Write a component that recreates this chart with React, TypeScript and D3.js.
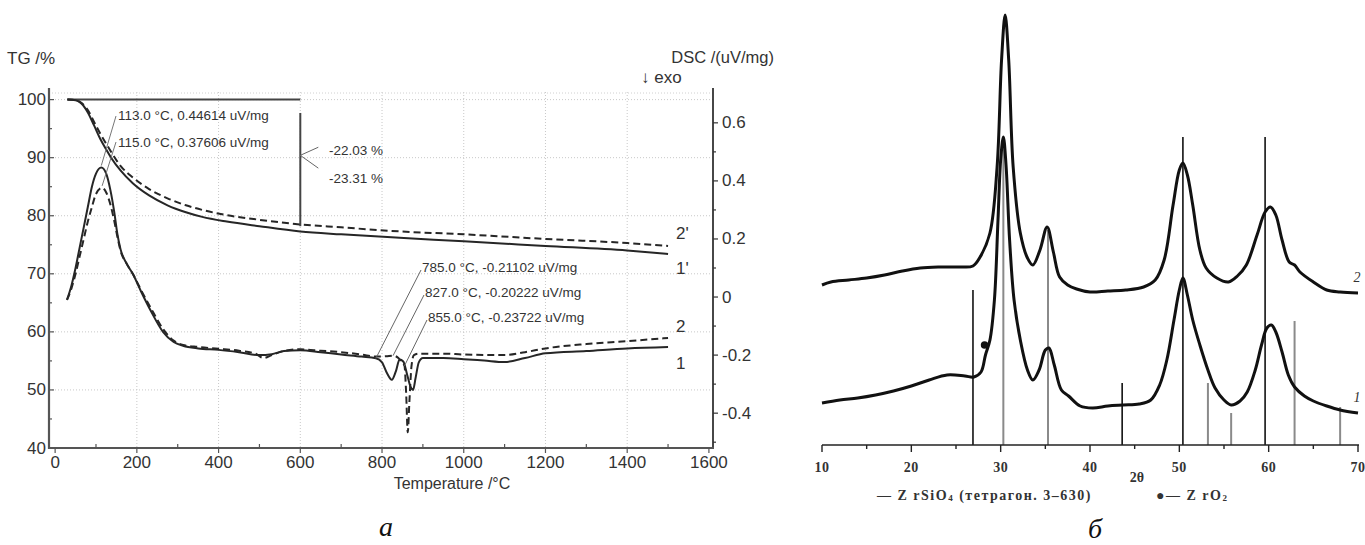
import React from "react";
import * as d3 from "d3";

// ---------- Panel a: TG / DSC ----------
const tgTemps = [30, 50, 65, 80, 95, 110, 125, 137, 160, 190, 230, 275, 320, 360, 420, 500, 600, 700, 843, 1000, 1200, 1400, 1500];
const tgSolid = [100, 99.9, 99.3, 97.8, 95.6, 93.3, 91.4, 90.0, 87.8, 85.6, 83.5, 81.8, 80.6, 79.8, 79.0, 78.2, 77.3, 76.8, 76.2, 75.6, 74.8, 74.0, 73.4];
const tgDashed = [100, 99.9, 99.4, 98.2, 96.2, 94.2, 92.4, 91.0, 88.6, 86.6, 84.6, 83.0, 81.8, 81.0, 80.1, 79.3, 78.5, 78.0, 77.3, 76.8, 76.0, 75.3, 74.8];

const dscTemps1 = [29, 40, 50, 60, 70, 80, 90, 100, 113, 125, 135, 145, 152, 160, 175, 190, 210, 235, 264, 290, 313, 350, 400, 450, 500, 530, 560, 600, 650, 700, 750, 785, 800, 812, 824, 834, 843, 852, 862, 870, 876, 882, 890, 900, 950, 1000, 1050, 1100, 1150, 1200, 1300, 1400, 1500];
const dsc1 = [-0.01, 0.04, 0.1, 0.17, 0.24, 0.31, 0.38, 0.425, 0.446, 0.425, 0.37, 0.29, 0.22, 0.165, 0.115, 0.08, 0.02, -0.05, -0.12, -0.155, -0.168, -0.177, -0.182, -0.19, -0.2, -0.197, -0.186, -0.183, -0.19, -0.198, -0.205, -0.211, -0.225, -0.262, -0.285, -0.255, -0.215, -0.222, -0.27, -0.31, -0.32, -0.28, -0.225, -0.21, -0.21, -0.214, -0.219, -0.224, -0.21, -0.194, -0.186, -0.177, -0.172];

const dscTemps2 = [29, 40, 50, 60, 70, 80, 90, 100, 115, 125, 135, 145, 152, 160, 175, 190, 210, 235, 264, 290, 313, 350, 400, 450, 490, 510, 530, 560, 600, 650, 700, 750, 785, 810, 827, 840, 850, 855, 859, 863, 867, 872, 878, 890, 950, 1000, 1100, 1150, 1200, 1300, 1400, 1500];
const dsc2 = [-0.01, 0.03, 0.08, 0.14, 0.2, 0.26, 0.31, 0.355, 0.376, 0.36, 0.32, 0.26, 0.21, 0.16, 0.115, 0.08, 0.025, -0.04, -0.11, -0.15, -0.165, -0.172, -0.178, -0.185, -0.195, -0.21, -0.2, -0.186, -0.18, -0.185, -0.19, -0.198, -0.205, -0.204, -0.202, -0.21, -0.228, -0.237, -0.33, -0.466, -0.36, -0.24, -0.2, -0.195, -0.195, -0.198, -0.2, -0.19, -0.177, -0.162, -0.152, -0.141];

const tempTicks = [0, 200, 400, 600, 800, 1000, 1200, 1400, 1600];
const tgTicks = [40, 50, 60, 70, 80, 90, 100];
const dscTicks = [-0.4, -0.2, 0, 0.2, 0.4, 0.6];

const dscNotes = [
  { t: 113, v: 0.446, text: "113.0 °C, 0.44614 uV/mg" },
  { t: 115, v: 0.376, text: "115.0 °C, 0.37606 uV/mg" },
];
const dscNotesLow = [
  { t: 785, v: -0.211, text: "785.0 °C, -0.21102 uV/mg" },
  { t: 827, v: -0.202, text: "827.0 °C, -0.20222 uV/mg" },
  { t: 855, v: -0.237, text: "855.0 °C, -0.23722 uV/mg" },
];
const massLoss = ["-22.03 %", "-23.31 %"];
const curveLabels = ["2'", "1'", "2", "1"];
const curveLabelValues = [0.22, 0.1, -0.1, -0.228];

// ---------- Panel б: XRD ----------
const xrdAngles2 = [10, 11, 13, 15, 17, 19, 21, 23, 25.5, 26.9, 27.7, 28.8, 29.6, 30.1, 30.5, 30.9, 31.4, 32.2, 33.0, 33.6, 34.4, 35.2, 35.9, 36.6, 37.5, 38.5, 40, 42, 44, 46, 47.3, 48.3, 49.3, 50.0, 50.4, 50.9, 51.5, 52.3, 53, 54.2, 55.5, 56.5, 57.5, 58.7, 59.6, 60.2, 60.8, 61.5, 62.3, 62.9, 63.5, 65, 66.5, 68, 70];
const xrd2 = [160, 163, 165, 167, 170, 174, 177, 178, 178, 179, 188, 212, 278, 385, 430, 385, 278, 212, 187, 180, 195, 218, 193, 168, 160, 156, 153, 154, 155, 158, 165, 185, 240, 275, 282, 270, 240, 195, 177, 167, 163, 169, 180, 210, 233, 238, 230, 205, 183, 180, 173, 163, 155, 153, 152];

const xrdAngles1 = [10, 12, 14, 16, 18, 20, 22, 24, 26, 27, 27.8, 28.3, 28.8, 29.3, 29.7, 30.0, 30.3, 30.6, 31.0, 31.5, 32.2, 33.0, 33.6, 34.3, 35.0, 35.4, 36.0, 36.8, 37.6, 38.9, 40.3, 42, 43.7, 45.5, 46.8, 47.8, 48.6, 49.4, 50.0, 50.4, 50.9, 51.5, 52.3, 53.2, 54, 55, 55.8, 56.8, 57.6, 58.5, 59.2, 59.8, 60.3, 60.8, 61.5, 62.2, 62.9, 64, 65, 66.5, 68, 70];
const xrd1 = [42, 45, 47, 50, 54, 59, 65, 70, 69, 68, 73, 90, 105, 145, 225, 285, 308, 280, 205, 145, 105, 75, 65, 75, 95, 97, 80, 55, 49, 39, 37, 39, 40, 41, 45, 60, 85, 125, 155, 167, 150, 125, 100, 75, 57, 45, 40, 44, 53, 75, 100, 117, 120, 113, 93, 70, 58, 49, 44, 39, 35, 32];

const stickAngles = [26.9, 30.3, 35.3, 43.6, 50.4, 53.2, 55.8, 59.6, 62.9, 68.0];
const stickHeights = [155, 308, 215, 62, 308, 62, 32, 308, 124, 38];
const stickDark = [true, false, false, true, true, false, false, true, false, false];
const zro2Angle = [28.2];
const zro2Level = [100];
const xrdTicks = [10, 20, 30, 40, 50, 60, 70];

export default function App() {
  const x = d3.scaleLinear().domain([-15, 1610]).range([49, 713]);
  const yTG = d3.scaleLinear().domain([40, 102]).range([448, 88]);
  const yD = d3.scaleLinear().domain([-0.52, 0.72]).range([448, 88]);

  const tgLine = (vals: number[]) =>
    d3.line<number>().x((_, i) => x(tgTemps[i])).y((d) => yTG(d)).curve(d3.curveMonotoneX)(vals) || "";
  const dscLine = (ts: number[], vals: number[]) =>
    d3.line<number>().x((_, i) => x(ts[i])).y((d) => yD(d)).curve(d3.curveMonotoneX)(vals) || "";

  const xx = d3.scaleLinear().domain([10, 70]).range([822, 1358]);
  const yy = d3.scaleLinear().domain([0, 440]).range([445, 5]);
  const xrdLine = (as: number[], vals: number[]) =>
    d3.line<number>().x((_, i) => xx(as[i])).y((d) => yy(d)).curve(d3.curveCatmullRom.alpha(0.5))(vals) || "";

  const sans = "'Liberation Sans', Arial, sans-serif";
  const serif = "'Liberation Serif', 'Times New Roman', serif";
  const ink = "#262626";

  const minorT = d3.range(0, 1601, 100);
  const minorTG = d3.range(40, 101, 5);
  const minorD = d3.range(-5, 7, 1).map((v) => v / 10);
  const gridT = [200, 400, 600, 800, 1000, 1200, 1400];
  const gridTG = [50, 60, 70, 80, 90, 100];

  return (
    <svg width={1365} height={545} style={{ position: "absolute", left: 0, top: 0, background: "#fff" }}>
      {/* ---------------- Panel a ---------------- */}
      <g>
        {gridT.map((t) => (
          <line key={"gx" + t} x1={x(t)} x2={x(t)} y1={92} y2={448} stroke="#c8c8c8" strokeDasharray="1,2" />
        ))}
        {gridTG.map((v) => (
          <line key={"gy" + v} x1={49} x2={713} y1={yTG(v)} y2={yTG(v)} stroke="#c8c8c8" strokeDasharray="1,2" />
        ))}
        <line x1={49} x2={713} y1={93} y2={93} stroke="#d0d0d0" strokeDasharray="1,2" />

        <line x1={49} x2={49} y1={88} y2={449} stroke="#555" strokeWidth={2.2} />
        <line x1={713} x2={713} y1={88} y2={449} stroke="#333" strokeWidth={1.8} />
        <line x1={48} x2={714} y1={448} y2={448} stroke="#555" strokeWidth={2.2} />

        {minorT.map((t) => (
          <line key={"mt" + t} x1={x(t)} x2={x(t)} y1={448} y2={t % 200 === 0 ? 453 : 444} stroke="#555" strokeWidth={1.2} />
        ))}
        {minorTG.map((v) => (
          <line key={"mtg" + v} x1={49} x2={v % 10 === 0 ? 54 : 52} y1={yTG(v)} y2={yTG(v)} stroke="#555" strokeWidth={1.2} />
        ))}
        {minorD.map((v) => (
          <line key={"md" + v} x1={713} x2={Math.abs(Math.round(v * 10)) % 2 === 0 ? 718 : 716} y1={yD(v)} y2={yD(v)} stroke="#333" strokeWidth={1.2} />
        ))}

        {tempTicks.map((t) => (
          <text key={"tl" + t} x={x(t)} y={462} textAnchor="middle" dominantBaseline="central" fontFamily={sans} fontSize={17} fill="#333">
            {t}
          </text>
        ))}
        {tgTicks.map((v) => (
          <text key={"tgl" + v} x={46} y={yTG(v)} textAnchor="end" dominantBaseline="central" fontFamily={sans} fontSize={17} fill="#333">
            {v}
          </text>
        ))}
        {dscTicks.map((v) => (
          <text key={"dl" + v} x={722} y={yD(v)} textAnchor="start" dominantBaseline="central" fontFamily={sans} fontSize={17} fill="#333">
            {v === 0 ? "0" : d3.format(".1f")(v).replace("−", "-")}
          </text>
        ))}

        <text x={7} y={58} dominantBaseline="central" fontFamily={sans} fontSize={17} fill="#333">TG /%</text>
        <text x={774} y={57} textAnchor="end" dominantBaseline="central" fontFamily={sans} fontSize={16.5} fill="#333">DSC /(uV/mg)</text>
        <text x={641} y={77} dominantBaseline="central" fontFamily={sans} fontSize={17} fill="#333">↓ exo</text>
        <text x={452} y={483} textAnchor="middle" dominantBaseline="central" fontFamily={sans} fontSize={16} fill="#333">Temperature /°C</text>
        <text x={386} y={526} textAnchor="middle" dominantBaseline="central" fontFamily={serif} fontStyle="italic" fontSize={28} fill="#111">а</text>

        {/* mass-loss step */}
        <line x1={x(30)} x2={x(600)} y1={yTG(100)} y2={yTG(100)} stroke="#444" strokeWidth={2} />
        <line x1={x(600)} x2={x(600)} y1={yTG(97.7)} y2={yTG(78.2)} stroke="#444" strokeWidth={2} />
        <line x1={x(600)} x2={x(600) + 18} y1={yTG(90.4)} y2={yTG(91.8)} stroke="#666" strokeWidth={1} />
        <line x1={x(600)} x2={x(600) + 18} y1={yTG(90.4)} y2={yTG(88.2)} stroke="#666" strokeWidth={1} />
        {massLoss.map((s, i) => (
          <text key={s} x={383} y={150 + i * 28} textAnchor="end" dominantBaseline="central" fontFamily={sans} fontSize={13.5} fill="#333">
            {s}
          </text>
        ))}

        {/* curves */}
        <path d={tgLine(tgSolid)} fill="none" stroke={ink} strokeWidth={2} />
        <path d={tgLine(tgDashed)} fill="none" stroke={ink} strokeWidth={2} strokeDasharray="7,4" />
        <path d={dscLine(dscTemps1, dsc1)} fill="none" stroke={ink} strokeWidth={2} />
        <path d={dscLine(dscTemps2, dsc2)} fill="none" stroke={ink} strokeWidth={2} strokeDasharray="7,4" />

        {dscNotes.map((n, i) => (
          <g key={n.text}>
            <line x1={x(n.t)} x2={116} y1={yD(n.v) - 2} y2={i === 0 ? 116 : 142} stroke="#777" strokeWidth={1} />
            <text x={118} y={115 + i * 27} dominantBaseline="central" fontFamily={sans} fontSize={13.5} fill="#333">
              {n.text}
            </text>
          </g>
        ))}
        {dscNotesLow.map((n, i) => (
          <g key={n.text}>
            <line x1={x(n.t)} x2={421 + i * 3} y1={yD(n.v)} y2={270 + i * 25} stroke="#666" strokeWidth={1} />
            <text x={422 + i * 3} y={267 + i * 25} dominantBaseline="central" fontFamily={sans} fontSize={13.5} fill="#333">
              {n.text}
            </text>
          </g>
        ))}
        {curveLabels.map((s, i) => (
          <text key={s} x={676} y={yD(curveLabelValues[i])} dominantBaseline="central" fontFamily={sans} fontSize={17} fill="#333">
            {s}
          </text>
        ))}
      </g>

      {/* ---------------- Panel б ---------------- */}
      <g>
        {stickAngles.map((a, i) => (
          <line
            key={"st" + a}
            x1={xx(a)}
            x2={xx(a)}
            y1={yy(0)}
            y2={yy(stickHeights[i])}
            stroke={stickDark[i] ? "#111" : "#8a8a8a"}
            strokeWidth={stickDark[i] ? 1.6 : 2}
          />
        ))}
        <path d={xrdLine(xrdAngles2, xrd2)} fill="none" stroke="#111" strokeWidth={3} strokeLinejoin="round" />
        <path d={xrdLine(xrdAngles1, xrd1)} fill="none" stroke="#111" strokeWidth={3} strokeLinejoin="round" />
        {zro2Angle.map((a, i) => (
          <circle key={"z" + a} cx={xx(a)} cy={yy(zro2Level[i])} r={3.8} fill="#111" />
        ))}

        <line x1={822} x2={1359} y1={445} y2={445} stroke="#222" strokeWidth={1.6} />
        {d3.range(10, 71, 5).map((a) => (
          <line key={"xt" + a} x1={xx(a)} x2={xx(a)} y1={445} y2={a % 10 === 0 ? 452 : 449} stroke="#222" strokeWidth={1.4} />
        ))}
        {xrdTicks.map((a) => (
          <text key={"xl" + a} x={xx(a)} y={467} textAnchor="middle" dominantBaseline="central" fontFamily={serif} fontWeight="bold" fontSize={14} letterSpacing={0.5} fill="#333">
            {a}
          </text>
        ))}
        <text x={1137} y={477} textAnchor="middle" dominantBaseline="central" fontFamily={serif} fontWeight="bold" fontSize={14} fill="#333">2θ</text>
        <text x={877} y={495} dominantBaseline="central" fontFamily={serif} fontWeight="bold" fontSize={14} letterSpacing={1.5} fill="#333">
          — Z rSiO<tspan fontSize={9} dy={3}>4</tspan><tspan dy={-3}> (тетрагон. 3–630)</tspan>
        </text>
        <text x={1156} y={495} dominantBaseline="central" fontFamily={serif} fontWeight="bold" fontSize={14} letterSpacing={1.5} fill="#333">
          ●— Z rO<tspan fontSize={9} dy={3}>2</tspan>
        </text>
        <text x={1357} y={277} textAnchor="middle" dominantBaseline="central" fontFamily={serif} fontStyle="italic" fontSize={14} fill="#333">2</text>
        <text x={1357} y={397} textAnchor="middle" dominantBaseline="central" fontFamily={serif} fontStyle="italic" fontSize={14} fill="#333">1</text>
        <text x={1095} y={528} textAnchor="middle" dominantBaseline="central" fontFamily={serif} fontStyle="italic" fontSize={28} fill="#111">б</text>
      </g>
    </svg>
  );
}
